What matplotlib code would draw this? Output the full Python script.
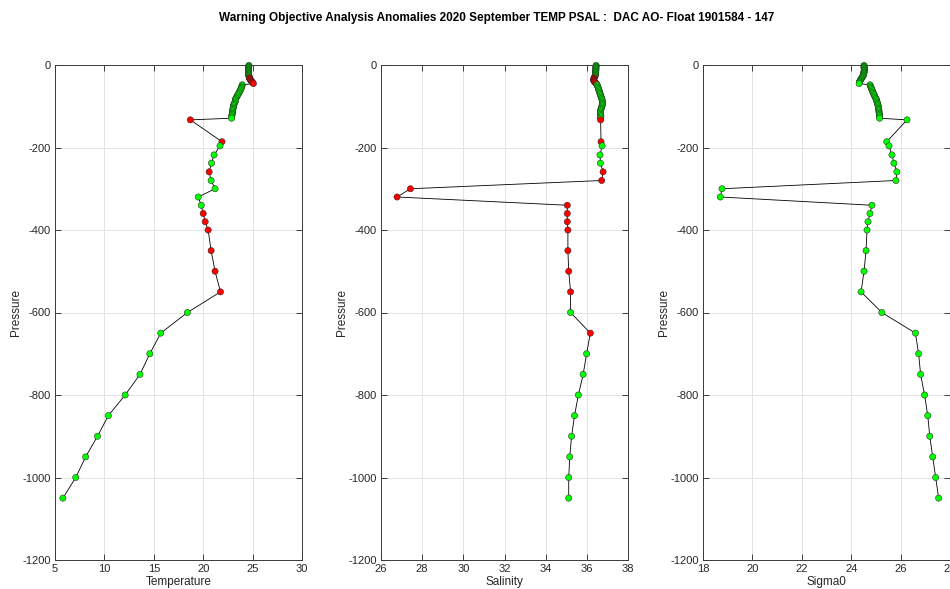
import numpy as np
import matplotlib.pyplot as plt

plt.rcParams['font.family'] = ['Liberation Sans', 'DejaVu Sans']
plt.rcParams['axes.unicode_minus'] = False

# pressure levels (dbar)
pres = [1, 3, 5, 7, 9, 11, 13, 15, 17, 19, 21, 23, 25, 27, 29,
        31, 33, 35, 37, 39, 41, 43, 45,
        48, 51, 54, 57, 60, 63, 66, 69, 72, 75, 78, 81, 84, 87, 90, 93,
        96, 99, 102, 105, 108, 111, 114, 117, 120, 123, 126, 129,
        133, 186, 196, 218, 238, 259, 280, 300, 320, 340, 360, 380, 400,
        450, 500, 550, 600, 650, 700, 750, 800, 850, 900, 950, 1000, 1050]

temp = [24.62, 24.62, 24.61, 24.61, 24.60, 24.60, 24.60, 24.60, 24.59, 24.59,
        24.60, 24.60, 24.62, 24.63, 24.65,
        24.68, 24.70, 24.75, 24.80, 24.88, 24.95, 25.02, 25.08,
        23.95, 23.92, 23.88, 23.83, 23.78, 23.72, 23.65, 23.58, 23.50, 23.45,
        23.38, 23.30, 23.25, 23.28, 23.22, 23.15, 23.10, 23.08, 23.05, 23.02,
        23.00, 22.98, 22.96, 22.94, 22.92, 22.90, 22.88, 22.87,
        18.7, 21.9, 21.7, 21.1, 20.84, 20.6, 20.8, 21.2, 19.5, 19.8, 20.0,
        20.2, 20.5, 20.8, 21.2, 21.75, 18.4, 15.7, 14.6, 13.6, 12.1, 10.4,
        9.3, 8.1, 7.1, 5.8]

psal = [36.45, 36.45, 36.44, 36.44, 36.44, 36.44, 36.44, 36.43, 36.43, 36.43,
        36.42, 36.42, 36.41, 36.40, 36.38,
        36.36, 36.34, 36.33, 36.33, 36.35, 36.38, 36.42, 36.46,
        36.50, 36.52, 36.54, 36.56, 36.58, 36.60, 36.62, 36.64, 36.66, 36.68,
        36.70, 36.72, 36.74, 36.75, 36.76, 36.76, 36.75, 36.74, 36.72, 36.70,
        36.68, 36.67, 36.66, 36.66, 36.67, 36.68, 36.68, 36.67,
        36.67, 36.69, 36.74, 36.64, 36.66, 36.79, 36.72, 27.43, 26.78, 35.05,
        35.05, 35.05, 35.08, 35.08, 35.12, 35.21, 35.21, 36.17, 35.99, 35.82,
        35.59, 35.40, 35.26, 35.17, 35.12, 35.12]

sig0 = [24.52, 24.52, 24.52, 24.52, 24.53, 24.53, 24.53, 24.52, 24.52, 24.52,
        24.51, 24.50, 24.49, 24.47, 24.45,
        24.43, 24.41, 24.39, 24.37, 24.35, 24.34, 24.33, 24.32,
        24.76, 24.78, 24.80, 24.82, 24.84, 24.86, 24.88, 24.90, 24.93, 24.95,
        24.97, 25.00, 25.02, 25.03, 25.05, 25.07, 25.08, 25.09, 25.10, 25.11,
        25.12, 25.12, 25.13, 25.13, 25.14, 25.14, 25.15, 25.15,
        26.26, 25.44, 25.53, 25.65, 25.73, 25.85, 25.81, 18.77, 18.70, 24.84,
        24.76, 24.68, 24.64, 24.60, 24.52, 24.40, 25.24, 26.60, 26.73, 26.81,
        26.97, 27.10, 27.18, 27.30, 27.42, 27.54]

# 1 = flagged (red), 0 = good (green)
temp_flag = [0] * 15 + [1] * 8 + [0] * 28 + \
    [1, 1, 0, 0, 0, 1, 0, 0, 0, 0, 1, 1, 1, 1, 1, 1, 0, 0, 0, 0, 0, 0, 0, 0, 0, 0]
psal_flag = [0] * 15 + [1] * 8 + [0] * 28 + \
    [1, 1, 0, 0, 0, 1, 1, 1, 1, 1, 1, 1, 1, 1, 1, 1, 0, 1, 0, 0, 0, 0, 0, 0, 0, 0]
sig0_flag = [0] * len(pres)

panels = [
    (temp, temp_flag, 'Temperature', (5, 30), [5, 10, 15, 20, 25, 30], 55),
    (psal, psal_flag, 'Salinity', (26, 38), [26, 28, 30, 32, 34, 36, 38], 381),
    (sig0, sig0_flag, 'Sigma0', (18, 28), [18, 20, 22, 24, 26, 28], 703),
]

W, H = 950, 589
fig = plt.figure(figsize=(W / 100, H / 100), dpi=100)
fig.text(497 / W, 1 - 18 / H,
         'Warning Objective Analysis Anomalies 2020 September TEMP PSAL :  DAC AO- Float 1901584 - 147',
         ha='center', va='center', fontsize=8.5, fontweight='bold')

axcol = '#262626'
p = -np.array(pres)
for vals, flags, xlab, xlim, xticks, left in panels:
    ax = fig.add_axes([left / W, 1 - 560 / H, 247 / W, 495 / H])
    ax.plot(vals, p, color='k', lw=0.6, zorder=2)
    cols = ['#ff0000' if f else '#00ff00' for f in flags]
    ax.scatter(vals, p, s=20, c=cols, edgecolors='#202020', linewidths=0.35,
               zorder=3, clip_on=False)
    ax.set_xlim(*xlim)
    ax.set_ylim(-1200, 0)
    ax.set_xticks(xticks)
    ax.set_yticks(range(-1200, 1, 200))
    ax.grid(True, color='#e3e3e3', lw=0.7)
    ax.set_axisbelow(True)
    ax.tick_params(direction='in', top=True, right=True, labelsize=8,
                   colors=axcol, length=4, width=0.6, pad=3)
    for s in ax.spines.values():
        s.set_color('#3a3a3a')
        s.set_linewidth(0.7)
    ax.set_xlabel(xlab, fontsize=8.5, color=axcol, labelpad=1)
    ax.set_ylabel('Pressure', fontsize=8.5, color=axcol)
    ax.yaxis.set_label_coords(-0.135, 0.5)

plt.savefig('out.png', dpi=100)
